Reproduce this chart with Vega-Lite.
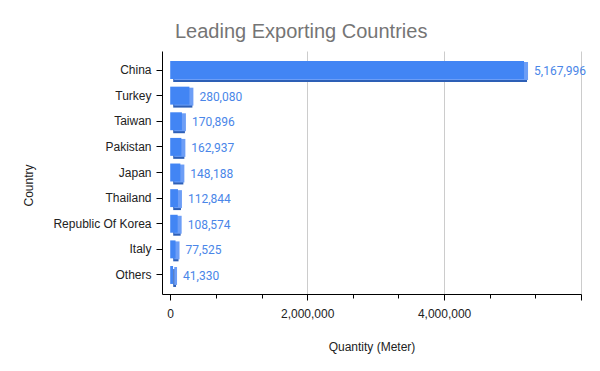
{
  "$schema": "https://vega.github.io/schema/vega-lite/v6.json",
  "width": 419,
  "height": 243,
  "autosize": {"type": "none"},
  "padding": {"left": 162, "top": 51, "right": 19, "bottom": 77},
  "background": "white",
  "title": {
    "text": "Leading Exporting Countries",
    "anchor": "start",
    "frame": "group",
    "dx": 13,
    "offset": 9,
    "fontSize": 20,
    "font": "Liberation Sans",
    "fontWeight": "normal",
    "color": "#757575"
  },
  "config": {
    "view": {"stroke": null},
    "axis": {"labelFont": "Liberation Sans", "titleFont": "Liberation Sans", "labelFontSize": 12, "titleFontSize": 12, "labelColor": "#222222", "titleColor": "#222222", "titleFontWeight": "normal"}
  },
  "data": {
    "values": [
      {"country": "China", "qty": 5167996},
      {"country": "Turkey", "qty": 280080},
      {"country": "Taiwan", "qty": 170896},
      {"country": "Pakistan", "qty": 162937},
      {"country": "Japan", "qty": 148188},
      {"country": "Thailand", "qty": 112844},
      {"country": "Republic Of Korea", "qty": 108574},
      {"country": "Italy", "qty": 77525},
      {"country": "Others", "qty": 41330}
    ]
  },
  "encoding": {
    "y": {
      "field": "country", "type": "nominal", "sort": null,
      "scale": {"paddingInner": 0.3, "paddingOuter": 0.392},
      "axis": {
        "title": "Country", "domainColor": "#000000", "tickColor": "#000000", "tickSize": 6, "labelPadding": 5,
        "titleAngle": -90, "titleX": -134, "titleY": 134, "titleAlign": "center", "titleBaseline": "middle"
      }
    },
    "x": {
      "field": "qty", "type": "quantitative",
      "scale": {"domain": [-120000, 6000000], "nice": false, "zero": false},
      "axis": {
        "title": "Quantity (Meter)",
        "values": [0, 666667, 1333333, 2000000, 2666667, 3333333, 4000000, 4666667, 5333333, 6000000],
        "labelExpr": "datum.value % 2000000 === 0 && datum.value < 6000000 ? format(datum.value, ',') : ''",
        "format": ",",
        "grid": true,
        "gridColor": "#cccccc",
        "gridOpacity": {"condition": {"test": "datum.value % 2000000 === 0 && datum.value > 0", "value": 1}, "value": 0},
        "tickSize": {"condition": {"test": "datum.value % 2000000 === 0", "value": 6}, "value": 4},
        "domainColor": "#000000", "tickColor": "#000000",
        "labelPadding": 8, "titlePadding": 22
      }
    }
  },
  "layer": [
    {"mark": {"type": "bar", "color": "#2d5fb6", "xOffset": 3, "yOffset": 3}},
    {"mark": {"type": "bar", "color": "#6d9ef6", "xOffset": 4, "yOffset": 1}},
    {"mark": {"type": "bar", "color": "#4285f4"}},
    {
      "mark": {"type": "text", "align": "left", "dx": 10, "dy": 1, "fontSize": 12, "font": "Roboto", "color": "#4a86e8"},
      "encoding": {"text": {"field": "qty", "type": "quantitative", "format": ","}}
    }
  ]
}
